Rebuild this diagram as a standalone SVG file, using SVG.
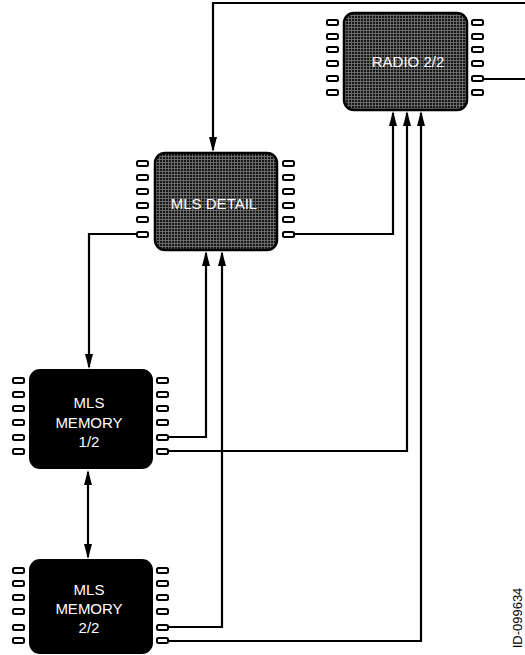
<svg xmlns="http://www.w3.org/2000/svg" width="525" height="655" viewBox="0 0 525 655">
<defs>
<pattern id="grid" width="3" height="3" patternUnits="userSpaceOnUse">
<rect width="3" height="3" fill="#161616"/>
<path d="M0 0.5H3M0.5 0V3" stroke="#6a6a6a" stroke-width="1"/>
</pattern>
<marker id="tip" markerWidth="16" markerHeight="8" refX="13" refY="4" orient="auto-start-reverse" markerUnits="userSpaceOnUse" viewBox="0 0 16 8">
<path d="M0 0L15 4L0 8Z" fill="#000"/>
</marker>
</defs>
<style>
.pin{fill:#fff;stroke:#000;stroke-width:2}
.grid{fill:url(#grid);stroke:#000;stroke-width:2.5}
.blk{fill:#000;stroke:#000;stroke-width:2}
.lbl{font-family:"Liberation Sans",Arial,sans-serif;font-size:15px;fill:#fff;text-anchor:middle}
.wire{fill:none;stroke:#000;stroke-width:2.2}
.id{font-family:"Liberation Sans",Arial,sans-serif;font-size:13px;fill:#000;text-anchor:middle}
</style>

<g id="connectors">
<path class="wire" d="M525 3H213V150" marker-end="url(#tip)"/>
<path class="wire" d="M483 79H525"/>
<path class="wire" d="M137 234H89V367" marker-end="url(#tip)"/>
<path class="wire" d="M293 234H393V113" marker-end="url(#tip)"/>
<path class="wire" d="M168 437H206V253" marker-end="url(#tip)"/>
<path class="wire" d="M168 451H407V113" marker-end="url(#tip)"/>
<path class="wire" d="M168 627H222V253" marker-end="url(#tip)"/>
<path class="wire" d="M168 641H421V113" marker-end="url(#tip)"/>
<path class="wire" d="M88 472V557" marker-start="url(#tip)" marker-end="url(#tip)"/>
</g>

<g id="radio">
<rect class="grid" x="344" y="13" width="123" height="97" rx="10"/>
<g class="pin">
<rect x="327" y="20" width="11" height="5" rx="1.5"/><rect x="327" y="34" width="11" height="5" rx="1.5"/><rect x="327" y="47" width="11" height="5" rx="1.5"/><rect x="327" y="61" width="11" height="5" rx="1.5"/><rect x="327" y="76" width="11" height="5" rx="1.5"/><rect x="327" y="90" width="11" height="5" rx="1.5"/>
<rect x="472" y="20" width="11" height="5" rx="1.5"/><rect x="472" y="34" width="11" height="5" rx="1.5"/><rect x="472" y="47" width="11" height="5" rx="1.5"/><rect x="472" y="61" width="11" height="5" rx="1.5"/><rect x="472" y="76" width="11" height="5" rx="1.5"/><rect x="472" y="90" width="11" height="5" rx="1.5"/>
</g>
<text class="lbl" x="408" y="67">RADIO 2/2</text>
</g>

<g id="mls-detail">
<rect class="grid" x="155" y="153" width="122" height="97" rx="10"/>
<g class="pin">
<rect x="137" y="161" width="11" height="5" rx="1.5"/><rect x="137" y="175" width="11" height="5" rx="1.5"/><rect x="137" y="189" width="11" height="5" rx="1.5"/><rect x="137" y="203" width="11" height="5" rx="1.5"/><rect x="137" y="217" width="11" height="5" rx="1.5"/><rect x="137" y="232" width="11" height="5" rx="1.5"/>
<rect x="283" y="161" width="11" height="5" rx="1.5"/><rect x="283" y="175" width="11" height="5" rx="1.5"/><rect x="283" y="189" width="11" height="5" rx="1.5"/><rect x="283" y="203" width="11" height="5" rx="1.5"/><rect x="283" y="217" width="11" height="5" rx="1.5"/><rect x="283" y="232" width="11" height="5" rx="1.5"/>
</g>
<text class="lbl" x="214" y="209">MLS DETAIL</text>
</g>

<g id="mls-memory-1">
<rect class="blk" x="30" y="370" width="122" height="98" rx="10"/>
<g class="pin">
<rect x="13" y="378" width="11" height="5" rx="1.5"/><rect x="13" y="392" width="11" height="5" rx="1.5"/><rect x="13" y="406" width="11" height="5" rx="1.5"/><rect x="13" y="420" width="11" height="5" rx="1.5"/><rect x="13" y="435" width="11" height="5" rx="1.5"/><rect x="13" y="449" width="11" height="5" rx="1.5"/>
<rect x="157" y="378" width="11" height="5" rx="1.5"/><rect x="157" y="392" width="11" height="5" rx="1.5"/><rect x="157" y="406" width="11" height="5" rx="1.5"/><rect x="157" y="420" width="11" height="5" rx="1.5"/><rect x="157" y="435" width="11" height="5" rx="1.5"/><rect x="157" y="449" width="11" height="5" rx="1.5"/>
</g>
<text class="lbl" x="89" y="408">MLS</text>
<text class="lbl" x="89" y="428">MEMORY</text>
<text class="lbl" x="89" y="447">1/2</text>
</g>

<g id="mls-memory-2">
<rect class="blk" x="30" y="560" width="122" height="93" rx="10"/>
<g class="pin">
<rect x="13" y="568" width="11" height="5" rx="1.5"/><rect x="13" y="581" width="11" height="5" rx="1.5"/><rect x="13" y="595" width="11" height="5" rx="1.5"/><rect x="13" y="609" width="11" height="5" rx="1.5"/><rect x="13" y="625" width="11" height="5" rx="1.5"/><rect x="13" y="638" width="11" height="5" rx="1.5"/>
<rect x="157" y="568" width="11" height="5" rx="1.5"/><rect x="157" y="581" width="11" height="5" rx="1.5"/><rect x="157" y="595" width="11" height="5" rx="1.5"/><rect x="157" y="609" width="11" height="5" rx="1.5"/><rect x="157" y="625" width="11" height="5" rx="1.5"/><rect x="157" y="638" width="11" height="5" rx="1.5"/>
</g>
<text class="lbl" x="89" y="595">MLS</text>
<text class="lbl" x="89" y="614">MEMORY</text>
<text class="lbl" x="89" y="633">2/2</text>
</g>

<text class="id" transform="translate(522 618) rotate(-90)">ID-099634</text>
</svg>
